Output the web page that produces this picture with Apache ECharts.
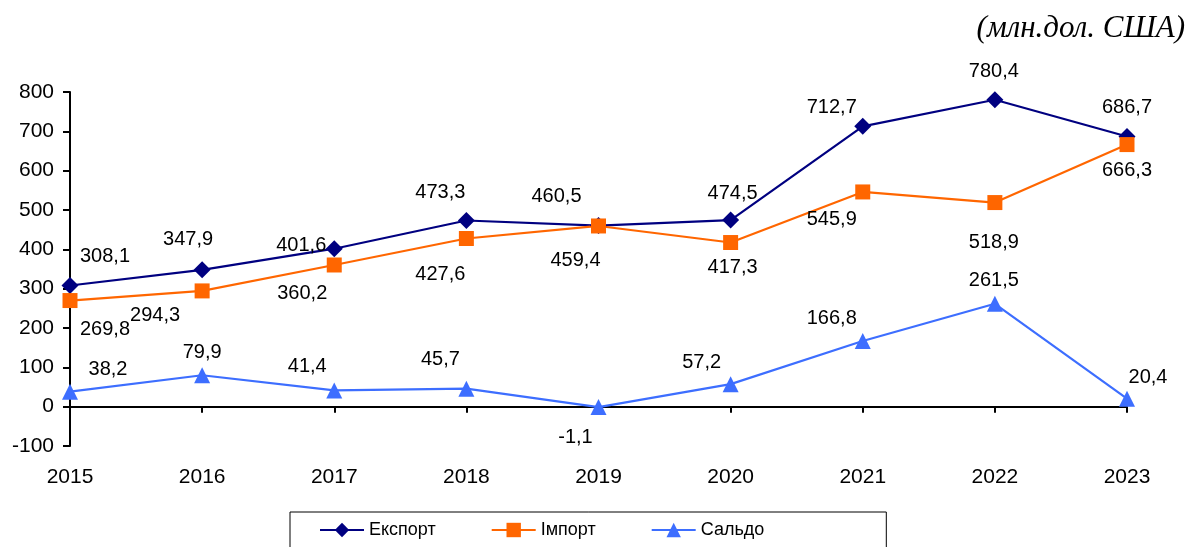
<!DOCTYPE html>
<html><head><meta charset="utf-8">
<script src="https://cdn.jsdelivr.net/npm/echarts@6/dist/echarts.min.js"></script>
<style>html,body{margin:0;padding:0;background:#fff}#c{width:1196px;height:547px}</style>
</head><body><div id="c"></div>
<script>
const years = ['2015','2016','2017','2018','2019','2020','2021','2022','2023'];
const exportVals = [308.1, 347.9, 401.6, 473.3, 460.5, 474.5, 712.7, 780.4, 686.7];
const importVals = [269.8, 294.3, 360.2, 427.6, 459.4, 417.3, 545.9, 518.9, 666.3];
const saldoVals  = [38.2, 79.9, 41.4, 45.7, -1.1, 57.2, 166.8, 261.5, 20.4];
const seriesNames = ['Експорт', 'Імпорт', 'Сальдо'];
const unitText = '(млн.дол. США)';

// label offsets (layout only)
const exportOff = [[35,-29],[-14,-30],[-33,-3],[-26,-28],[-42,-29],[2,-27],[-31,-19],[-1,-28],[0,-29]];
const importOff = [[35,29],[-47,25],[-32,28],[-26,36],[-23,35],[2,25],[-31,28],[-1,40],[0,26]];
const saldoOff  = [[38,-22],[0,-23],[-27,-24],[-26,-29],[-23,30],[-29,-22],[-31,-23],[-1,-23],[21,-21]];

const FONT = '"Liberation Sans", Arial, sans-serif';
function items(vals, offs){
  return vals.map((v,i)=>({value:v,label:{offset:offs[i]}}));
}
function mk(name, vals, offs, color, symbol, size){
  return {
    name, type:'line', data: items(vals, offs), xAxisIndex:0,
    symbol, symbolSize:size, showAllSymbol:true,
    lineStyle:{color, width:2.2}, itemStyle:{color},
    label:{show:true, position:'inside', color:'#000', fontSize:20, fontFamily:FONT,
      formatter:p=>String(p.value).replace('.', ',')},
    emphasis:{disabled:true}, z:3
  };
}
const chart = echarts.init(document.getElementById('c'), null, {renderer:'canvas'});
chart.setOption({
  animation:false,
  backgroundColor:'#fff',
  textStyle:{fontFamily:FONT},
  graphic:[{type:'text', right:11, top:13,
    style:{text:unitText, font:'italic 31px "Liberation Serif", "Times New Roman", serif', fill:'#000'}}],
  legend:{
    data:seriesNames, left:290, top:512, orient:'horizontal',
    borderColor:'#000', borderWidth:1, padding:[9,122,20,29],
    itemGap:55, itemWidth:44, itemHeight:18,
    textStyle:{fontSize:18, color:'#000', fontFamily:FONT}
  },
  grid:{left:70, right:69, top:92, bottom:101, containLabel:false},
  xAxis:[{
    type:'category', data:years, boundaryGap:false,
    axisLine:{onZero:true, lineStyle:{color:'#000', width:2}},
    axisTick:{show:true, length:6, lineStyle:{color:'#000', width:2}},
    axisLabel:{show:false}, splitLine:{show:false}
  },{
    type:'category', data:years, boundaryGap:false, position:'bottom',
    axisLine:{show:false, onZero:false}, axisTick:{show:false},
    axisLabel:{show:true, color:'#000', fontSize:21, fontFamily:FONT, margin:21}
  }],
  yAxis:{
    type:'value', min:-100, max:800, interval:100,
    axisLine:{show:true, lineStyle:{color:'#000', width:2}},
    axisTick:{show:true, length:7, lineStyle:{color:'#000', width:2}},
    axisLabel:{color:'#000', fontSize:21, fontFamily:FONT, margin:16},
    splitLine:{show:false}
  },
  series:[
    mk(seriesNames[0], exportVals, exportOff, '#000080', 'diamond', 17),
    mk(seriesNames[1], importVals, importOff, '#FF6600', 'rect', 15),
    mk(seriesNames[2], saldoVals, saldoOff, '#3D6EFF', 'triangle', 16)
  ]
});
</script></body></html>
